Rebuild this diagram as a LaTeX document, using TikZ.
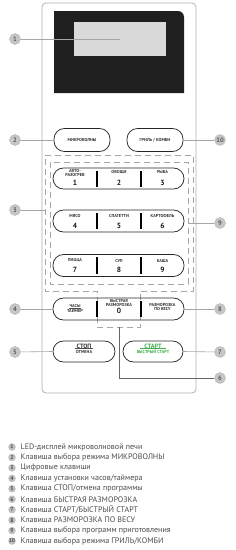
\documentclass[tikz,border=0pt]{standalone}
\usepackage{fontspec}
\setmainfont{PT Sans}
\definecolor{startgreen}{HTML}{3FAE49}
\begin{document}
\begin{tikzpicture}[x=1pt,y=-1pt,
  callout/.style={circle,fill=gray!45,draw=gray!65,line width=0.3pt,inner sep=0pt,minimum size=11pt,font=\fontsize{6.5}{7}\selectfont\bfseries\color{black!65}},
  lead/.style={draw=gray!70,line width=0.6pt},
  pill/.style={draw=black!85,line width=0.75pt,rounded corners=10.5pt,inner sep=0pt},
  dashbox/.style={draw=gray!70,line width=0.7pt,dash pattern=on 6pt off 4pt},
  divider/.style={draw=black,line width=1.3pt},
  klab/.style={inner sep=0pt,font=\fontsize{4.3}{4.7}\selectfont\bfseries,text=black!80,align=center},
  knum/.style={inner sep=0pt,font=\fontsize{7.5}{7.5}\selectfont\bfseries,text=black!90},
  legnum/.style={circle,fill=gray!50,inner sep=0pt,minimum size=7.5pt,font=\fontsize{5.5}{6}\selectfont\bfseries\color{black!70}},
  legtext/.style={anchor=west,inner sep=0pt,font=\fontsize{8}{9}\selectfont,text=black!70}
]
\useasboundingbox (0,0) rectangle (236,550);
\fill[white] (0,0) rectangle (236,550);

% panel
\draw[gray!60,line width=0.8pt,rounded corners=4pt] (42,3) rectangle (196,393);

% display
\fill[black!88] (54,93) -- (54,11) [rounded corners=6pt] -- (184,11) [sharp corners] -- (184,93) -- cycle;
\fill[gray!30] (74,22) rectangle (166,56);
\coordinate (disp) at (120,39);

% dashed groups
\draw[dashbox] (45,155) -- (193,155) -- (193,291) -- (140,291) -- (140,327) -- (97,327) -- (97,291) -- (45,291) -- cycle;
\draw[dashbox] (50,162) rectangle (188,284);
\coordinate (g3) at (45,210);
\coordinate (g9) at (188,223);
\coordinate (g6a) at (119,327);
\coordinate (g6b) at (119,378);

% mode buttons
\node[pill,minimum width=56pt,minimum height=23pt] (micro) at (82,140) {};
\node[klab] at (micro) {МИКРОВОЛНЫ};
\node[pill,minimum width=56pt,minimum height=23pt] (grill) at (155,140) {};
\node[klab] at (grill) {ГРИЛЬ / КОМБИ};

% key rows
\node[pill,minimum width=131pt,minimum height=21pt] (row1) at (118.5,178.5) {};
\draw[divider] (97,171) -- (97,187);
\draw[divider] (141,171) -- (141,187);
\node[klab] at (75,173) {АВТО-\\РАЗОГРЕВ};
\node[knum] at (75,182.5) {1};
\node[klab] at (119,172) {ОВОЩИ};
\node[knum] at (119,182.5) {2};
\node[klab] at (162.5,172) {РЫБА};
\node[knum] at (162.5,182.5) {3};

\node[pill,minimum width=131pt,minimum height=22pt] (row2) at (118.5,221) {};
\draw[divider] (97,213) -- (97,229);
\draw[divider] (141,213) -- (141,229);
\node[klab] at (75,216) {МЯСО};
\node[knum] at (75,226) {4};
\node[klab] at (119,216) {СПАГЕТТИ};
\node[knum] at (119,226) {5};
\node[klab] at (162.5,216) {КАРТОФЕЛЬ};
\node[knum] at (162.5,226) {6};

\node[pill,minimum width=131pt,minimum height=22pt] (row3) at (118.5,265.5) {};
\draw[divider] (97,257) -- (97,274);
\draw[divider] (141,257) -- (141,274);
\node[klab] at (75,260.5) {ПИЦЦА};
\node[knum] at (75,270) {7};
\node[klab] at (119,260.5) {СУП};
\node[knum] at (119,270) {8};
\node[klab] at (162.5,260.5) {КАША};
\node[knum] at (162.5,270) {9};

\node[pill,minimum width=131pt,minimum height=22pt] (row4) at (118.5,309) {};
\draw[divider] (97,301) -- (97,317);
\draw[divider] (141,301) -- (141,317);
\node[klab] (chasy) at (75,305.5) {ЧАСЫ};
\draw[black!70,line width=0.3pt] (69,308) -- (81,308);
\node[klab] at (75,310.5) {ТАЙМЕР};
\node[klab] at (119,303) {БЫСТРАЯ\\РАЗМОРОЗКА};
\node[knum] at (119,311) {0};
\node[klab] at (162.5,307) {РАЗМОРОЗКА\\ПО ВЕСУ};

% stop / start
\node[pill,minimum width=62pt,minimum height=21pt] (stop) at (84,351.5) {};
\node[klab,font=\fontsize{6.2}{6.2}\selectfont\bfseries] at (84,346) {СТОП};
\draw[black!70,line width=0.3pt] (75,348.5) -- (93,348.5);
\node[klab] at (84,351.5) {ОТМЕНА};
\node[pill,minimum width=60pt,minimum height=21pt] (start) at (153,351.5) {};
\node[klab,font=\fontsize{6.2}{6.2}\selectfont\bfseries,text=startgreen] at (153,346) {СТАРТ};
\draw[startgreen,line width=0.3pt] (140,348.5) -- (166,348.5);
\node[klab,text=startgreen] at (153,351.5) {БЫСТРЫЙ СТАРТ};

% callouts
\node[callout] (c1) at (15,39) {1};
\node[callout] (c2) at (15,140) {2};
\node[callout] (c3) at (15,210) {3};
\node[callout] (c4) at (15,309) {4};
\node[callout] (c5) at (15,352) {5};
\node[callout] (c6) at (220,378) {6};
\node[callout] (c7) at (220,352) {7};
\node[callout] (c8) at (220,309) {8};
\node[callout] (c9) at (220,223) {9};
\node[callout] (c10) at (220,140) {10};

\draw[lead] (c1) -- (disp);
\draw[lead] (c2) -- (micro.west);
\draw[lead] (c10) -- (grill.east);
\draw[lead] (c3) -- (g3);
\draw[lead] (c9) -- (g9);
\draw[lead] (c4) -- (row4.west);
\draw[lead] (c8) -- (row4.east);
\draw[lead] (c5) -- (stop.west);
\draw[lead] (c7) -- (start.east);
\draw[lead,draw=black!60] (g6a) -- (g6b) -- (c6);

% legend
\foreach \i/\t [count=\k from 0] in {
  1/{LED-дисплей микроволновой печи},
  2/{Клавиша выбора режима МИКРОВОЛНЫ},
  3/{Цифровые клавиши},
  4/{Клавиша установки часов/таймера},
  5/{Клавиша СТОП/отмена программы},
  6/{Клавиша БЫСТРАЯ РАЗМОРОЗКА},
  7/{Клавиша СТАРТ/БЫСТРЫЙ СТАРТ},
  8/{Клавиша РАЗМОРОЗКА ПО ВЕСУ},
  9/{Клавиша выбора программ приготовления},
  10/{Клавиша выбора режима ГРИЛЬ/КОМБИ}}{
  \node[legnum] (l\i) at (12,447+10.45*\k) {\i};
  \node[legtext] (t\i) at (20.5,447+10.45*\k) {\t};
}
\end{tikzpicture}
\end{document}
